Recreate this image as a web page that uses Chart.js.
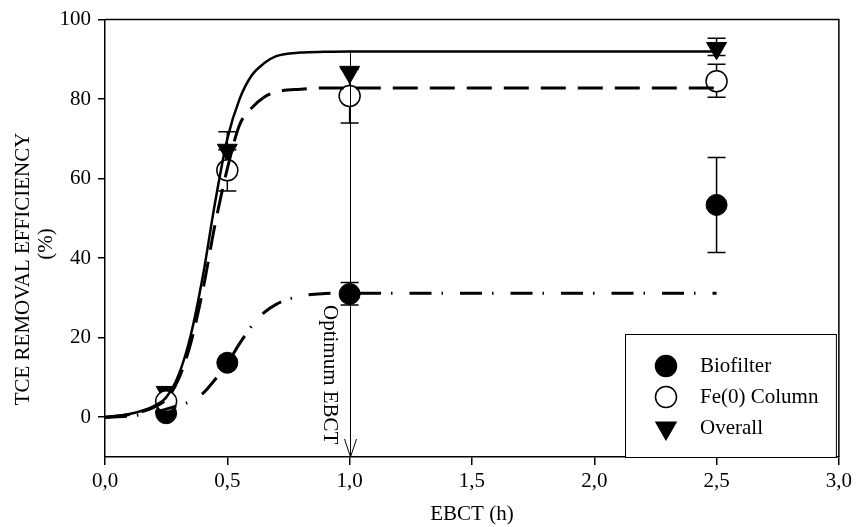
<!DOCTYPE html>
<html>
<head>
<meta charset="utf-8">
<script src="https://cdn.jsdelivr.net/npm/chart.js@4"></script>
<style>
  html, body { margin: 0; padding: 0; background: #fff; }
  #wrap { width: 856px; height: 527px; }
</style>
</head>
<body>
<div id="wrap"><canvas id="chart" width="856" height="527"></canvas></div>
<script>
const xTicks = [0, 0.5, 1, 1.5, 2, 2.5, 3];
const yTicks = [0, 20, 40, 60, 80, 100];

// measured points
const ebct = [0.25, 0.5, 1.0, 2.5];
const biofilter = [1.0, 13.7, 31.0, 53.4];
const biofilterLow = [null, null, 28.2, 41.4];
const biofilterHigh = [null, null, 33.9, 65.3];
const feColumn = [4.0, 62.1, 80.8, 84.5];
const feColumnLow = [null, 56.9, 74.0, 80.5];
const feColumnHigh = [null, 67.3, 87.5, 88.8];
const overall = [6.3, 67.2, 86.8, 92.8];
const overallLow = [null, 61.5, null, 91.0];
const overallHigh = [null, 71.8, null, 95.3];

// fitted curves
const fitX = [0, 0.1, 0.2, 0.25, 0.3, 0.35, 0.4, 0.45, 0.5, 0.55, 0.6, 0.65, 0.7, 0.8, 0.9, 1.0, 2.5];
const overallFit = [0, 0.8, 2.8, 5, 10.5, 20.5, 35.5, 54, 70, 80, 86, 89, 90.8, 91.7, 91.9, 92, 92];
const feColumnFit = [0, 0.7, 2.5, 4.5, 9.5, 18.5, 32, 48.5, 62.5, 73.5, 77.8, 80.5, 81.8, 82.5, 82.8, 82.8, 82.8];
const biofilterFit = [0, 0.3, 1.2, 2, 3, 4, 6, 9.5, 13.5, 18.5, 23, 26.3, 28.4, 30.5, 31.1, 31.2, 31.2];

const optimumX = 1.0;
const optimumTop = 92;

const FONT = "'Liberation Serif', 'Times New Roman', serif";

function pts(xs, ys) {
  return xs.map((x, i) => ({ x: x, y: ys[i] }));
}

const errorBars = [
  { low: biofilterLow, high: biofilterHigh },
  { low: feColumnLow, high: feColumnHigh },
  { low: overallLow, high: overallHigh },
];

const legendItems = [
  { label: "Biofilter", style: "circle", fill: "#000" },
  { label: "Fe(0) Column", style: "circle", fill: "#fff" },
  { label: "Overall", style: "triangle", fill: "#000" },
];

const extras = {
  id: "extras",
  beforeDatasetsDraw(chart) {
    const ctx = chart.ctx;
    const xs = chart.scales.x;
    const ys = chart.scales.y;
    ctx.save();
    ctx.strokeStyle = "#000";
    ctx.lineWidth = 1.5;
    errorBars.forEach((eb) => {
      ebct.forEach((x, i) => {
        if (eb.low[i] == null) return;
        const px = xs.getPixelForValue(x);
        const y1 = ys.getPixelForValue(eb.low[i]);
        const y2 = ys.getPixelForValue(eb.high[i]);
        ctx.beginPath();
        ctx.moveTo(px, y1); ctx.lineTo(px, y2);
        ctx.moveTo(px - 9, y1); ctx.lineTo(px + 9, y1);
        ctx.moveTo(px - 9, y2); ctx.lineTo(px + 9, y2);
        ctx.stroke();
      });
    });
    ctx.restore();
  },
  afterDatasetsDraw(chart) {
    const ctx = chart.ctx;
    const a = chart.chartArea;
    const xs = chart.scales.x;
    const ys = chart.scales.y;
    ctx.save();

    // frame top and right
    ctx.strokeStyle = "#000";
    ctx.lineWidth = 1.5;
    ctx.beginPath();
    ctx.moveTo(a.left, a.top); ctx.lineTo(a.right, a.top); ctx.lineTo(a.right, a.bottom);
    ctx.stroke();

    // optimum arrow
    const ox = Math.round(xs.getPixelForValue(optimumX)) + 0.5;
    const oy = ys.getPixelForValue(optimumTop);
    ctx.lineWidth = 1;
    ctx.beginPath();
    ctx.moveTo(ox, oy); ctx.lineTo(ox, a.bottom);
    ctx.moveTo(ox - 6, a.bottom - 18); ctx.lineTo(ox, a.bottom); ctx.lineTo(ox + 6, a.bottom - 18);
    ctx.stroke();

    ctx.fillStyle = "#000";
    ctx.font = "21px " + FONT;
    ctx.save();
    ctx.translate(ox - 21, a.bottom - 152);
    ctx.rotate(Math.PI / 2);
    ctx.textAlign = "left";
    ctx.textBaseline = "middle";
    ctx.fillText("Optimum EBCT", 0, 0);
    ctx.restore();

    // y axis title
    ctx.save();
    ctx.translate(23, 269);
    ctx.rotate(-Math.PI / 2);
    ctx.textAlign = "center";
    ctx.textBaseline = "middle";
    ctx.fillText("TCE REMOVAL EFFICIENCY", 0, 0);
    ctx.restore();
    ctx.save();
    ctx.translate(46, 244);
    ctx.rotate(-Math.PI / 2);
    ctx.textAlign = "center";
    ctx.textBaseline = "middle";
    ctx.fillText("(%)", 0, 0);
    ctx.restore();

    // legend box
    const bx = 625, by = 334, bw = a.right - 3 - bx, bh = a.bottom - by;
    ctx.fillStyle = "#fff";
    ctx.fillRect(bx, by, bw, bh);
    ctx.lineWidth = 1;
    ctx.strokeRect(bx + 0.5, by + 0.5, bw, bh);
    legendItems.forEach((it, i) => {
      const cy = 366 + i * 31;
      const cx = 666;
      ctx.fillStyle = it.fill;
      ctx.strokeStyle = "#000";
      ctx.lineWidth = 1.5;
      ctx.beginPath();
      if (it.style === "circle") {
        ctx.arc(cx, cy, 10.5, 0, Math.PI * 2);
      } else {
        const r = 11.5;
        ctx.moveTo(cx, cy + r);
        ctx.lineTo(cx - r * 0.866, cy - r / 2);
        ctx.lineTo(cx + r * 0.866, cy - r / 2);
        ctx.closePath();
      }
      ctx.fill();
      ctx.stroke();
      ctx.fillStyle = "#000";
      ctx.textAlign = "left";
      ctx.textBaseline = "middle";
      ctx.fillText(it.label, 700, cy);
    });
    ctx.restore();
  },
};

new Chart(document.getElementById("chart"), {
  data: {
    datasets: [
      {
        type: "line",
        label: "Overall fit",
        data: pts(fitX, overallFit),
        borderColor: "#000",
        borderWidth: 2.5,
        pointRadius: 0,
        cubicInterpolationMode: "monotone",
        order: 0,
      },
      {
        type: "line",
        label: "Fe(0) fit",
        data: pts(fitX, feColumnFit),
        borderColor: "#000",
        borderWidth: 3,
        borderDash: [25, 12],
        pointRadius: 0,
        cubicInterpolationMode: "monotone",
        order: 0,
      },
      {
        type: "line",
        label: "Biofilter fit",
        data: pts(fitX, biofilterFit),
        borderColor: "#000",
        borderWidth: 3,
        borderDash: [22, 10, 1.5, 17],
        pointRadius: 0,
        cubicInterpolationMode: "monotone",
        order: 0,
      },
      {
        type: "scatter",
        label: "Biofilter",
        data: pts(ebct, biofilter),
        pointStyle: "circle",
        pointRadius: 10.5,
        backgroundColor: "#000",
        borderColor: "#000",
        borderWidth: 1,
        order: 3,
      },
      {
        type: "scatter",
        label: "Fe(0) Column",
        data: pts(ebct, feColumn),
        pointStyle: "circle",
        pointRadius: 10.5,
        backgroundColor: "#fff",
        borderColor: "#000",
        borderWidth: 1.5,
        order: 1,
      },
      {
        type: "scatter",
        label: "Overall",
        data: pts(ebct, overall),
        pointStyle: "triangle",
        rotation: 180,
        pointRadius: 11.5,
        backgroundColor: "#000",
        borderColor: "#000",
        borderWidth: 1,
        order: 2,
      },
    ],
  },
  options: {
    responsive: false,
    animation: false,
    layout: { padding: { left: 0, right: 16, top: 16, bottom: 0 } },
    plugins: {
      legend: { display: false },
      tooltip: { enabled: false },
    },
    scales: {
      x: {
        type: "linear",
        min: 0,
        max: 3,
        afterFit(scale) { scale.height = 70; },
        afterBuildTicks(scale) { scale.ticks = xTicks.map((v) => ({ value: v })); },
        grid: {
          drawOnChartArea: false,
          drawTicks: true,
          tickLength: 8,
          color: "#000",
          lineWidth: 1.5,
        },
        border: { color: "#000", width: 1.5 },
        ticks: {
          color: "#000",
          padding: 4,
          font: { family: FONT, size: 21 },
          callback: (v) => v.toFixed(1).replace(".", ","),
        },
        title: {
          display: true,
          text: "EBCT (h)",
          color: "#000",
          font: { family: FONT, size: 21 },
          padding: { top: 2, bottom: 0 },
        },
      },
      y: {
        type: "linear",
        min: -10,
        max: 100,
        afterFit(scale) { scale.width = 105; },
        afterBuildTicks(scale) { scale.ticks = yTicks.map((v) => ({ value: v })); },
        grid: {
          drawOnChartArea: false,
          drawTicks: true,
          tickLength: 7,
          color: "#000",
          lineWidth: 1.5,
        },
        border: { color: "#000", width: 1.5 },
        ticks: {
          color: "#000",
          padding: 7,
          font: { family: FONT, size: 21 },
          callback: (v) => String(v),
        },
      },
    },
  },
  plugins: [extras],
});
</script>
</body>
</html>
